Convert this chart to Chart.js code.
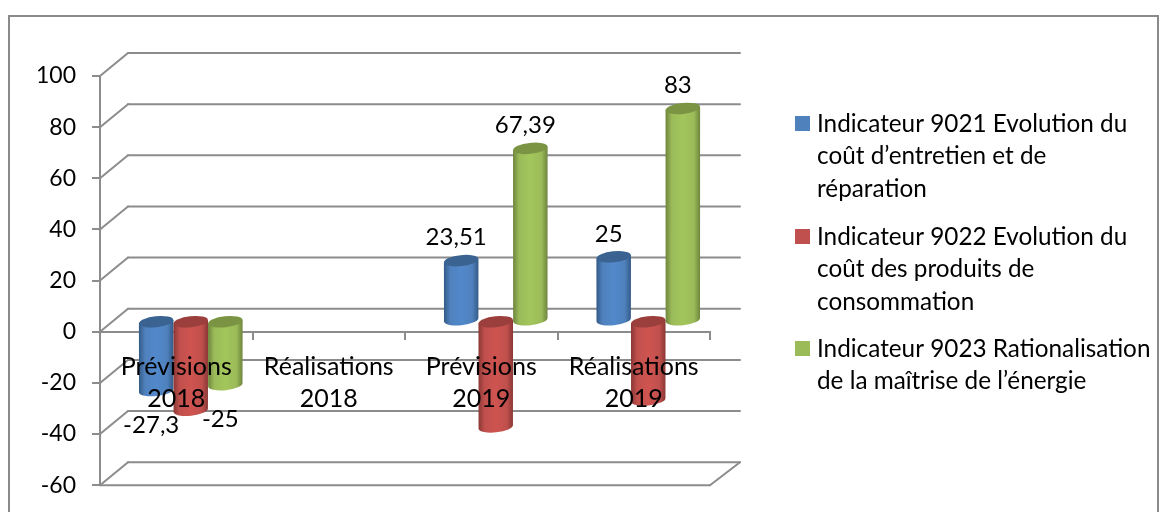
<!DOCTYPE html>
<html><head><meta charset="utf-8">
<style>html,body{margin:0;padding:0;background:#fff;overflow:hidden}#w{position:relative;width:1167px;height:512px;overflow:hidden}canvas{display:block}</style>
<script src="https://cdn.jsdelivr.net/npm/chart.js@4/dist/chart.umd.min.js"></script>
</head><body><div id="w"><canvas id="c" width="1167" height="515"></canvas></div>
<script>
const categories = [['Prévisions','2018'],['Réalisations','2018'],['Prévisions','2019'],['Réalisations','2019']];
const seriesNames = ['Indicateur 9021 Evolution du coût d’entretien et de réparation','Indicateur 9022 Evolution du coût des produits de consommation','Indicateur 9023 Rationalisation de la maîtrise de l’énergie'];
const values9021 = [-27.3, null, 23.51, 25];
const values9022 = [-35, null, -41.5, -31];
const values9023 = [-25, null, 67.39, 83];
const legendLines = [['Indicateur 9021 Evolution du','coût d’entretien et de','réparation'],['Indicateur 9022 Evolution du','coût des produits de','consommation'],['Indicateur 9023 Rationalisation','de la maîtrise de l’énergie']];
const legendY = [124,237,349];
const FONT = 'Lato, sans-serif';
const GRID = '#8c8c8c';
const palette = [
 {main:'#4F81BD',light:'#5289CB',dark:'#335A86',top:'#3A6391'},
 {main:'#C0504D',light:'#CF5450',dark:'#8A3735',top:'#9A3F3C'},
 {main:'#9BBB59',light:'#A3C65C',dark:'#6E853D',top:'#7A9444'}];
const DX=14.5, DY=-11, WX=28, WY=-23, RY=5.5, TILT=-6*Math.PI/180;

function line(ctx,a,b,c,d){ctx.beginPath();ctx.moveTo(a,b);ctx.lineTo(c,d);ctx.stroke();}

const scene = {
 id:'scene',
 beforeDraw(chart){
  const ctx=chart.ctx;ctx.save();ctx.fillStyle='#fff';ctx.fillRect(0,0,1167,515);
  ctx.strokeStyle='#8a8a8a';ctx.lineWidth=2;ctx.strokeRect(9,16,1149,520);ctx.restore();
 },
 beforeDatasetsDraw(chart){
  const ctx=chart.ctx,{x,y}=chart.scales,L=x.left,R=x.right;
  ctx.save();ctx.strokeStyle=GRID;ctx.lineWidth=2;ctx.lineCap='round';
  y.ticks.forEach(t=>{const p=y.getPixelForValue(t.value);
   line(ctx,L+WX,p+WY,R+WX+2,p+WY);
   line(ctx,L,p,L+WX,p+WY);});
  const b=y.getPixelForValue(y.min);
  line(ctx,L,b,R,b);line(ctx,R,b,R+WX+2,b+WY);
  ctx.restore();
  [0,1,2].forEach(ds=>{
   const c=palette[ds],meta=chart.getDatasetMeta(ds);
   ctx.save();
   meta.data.forEach((el,i)=>{
    const v=chart.data.datasets[ds].data[i]; if(v==null)return;
    const cx=el.x+DX,rx=el.width/2,top=Math.min(el.y,el.base)+DY,bot=Math.max(el.y,el.base)+DY;
    const off=rx*Math.sin(TILT);
    const g=ctx.createLinearGradient(cx-rx,0,cx+rx,0);
    g.addColorStop(0,c.dark);g.addColorStop(.18,c.main);g.addColorStop(.5,c.light);g.addColorStop(.82,c.main);g.addColorStop(1,c.dark);
    ctx.fillStyle=g;ctx.beginPath();
    ctx.ellipse(cx,bot,rx,RY,TILT,0,Math.PI,false);
    ctx.lineTo(cx-rx,top-off);
    ctx.lineTo(cx+rx,top+off);
    ctx.closePath();ctx.fill();
    ctx.fillStyle=c.top;ctx.beginPath();ctx.ellipse(cx,top,rx,RY,TILT,0,Math.PI*2);ctx.fill();
   });
   ctx.restore();
  });
 },
 beforeDatasetDraw(){return false;},
 afterDraw(chart){
  const ctx=chart.ctx;ctx.save();
  ctx.font='24px '+FONT;ctx.fillStyle='#000';ctx.textAlign='center';ctx.textBaseline='middle';
  [0,2].forEach(ds=>{
   chart.getDatasetMeta(ds).data.forEach((el,i)=>{
    const v=chart.data.datasets[ds].data[i];if(v==null)return;
    const s=String(v).replace('.',','),cx=el.x+DX-5;
    const ly=v>=0?el.y+DY-23:el.y+DY+35;
    ctx.fillText(s,cx,ly);
   });
  });
  ctx.textAlign='left';
  ctx.font='24.3px '+FONT;
  legendLines.forEach((ls,k)=>{
   ctx.fillStyle=palette[k].main;ctx.fillRect(795,legendY[k]-8,15,15);
   ctx.fillStyle='#000';
   ls.forEach((t,j)=>ctx.fillText(t,817,legendY[k]+j*32.5));
  });
  ctx.restore();
 }
};

new Chart(document.getElementById('c'),{
 type:'bar',
 data:{labels:categories,datasets:[
  {label:seriesNames[0],data:values9021,backgroundColor:palette[0].main},
  {label:seriesNames[1],data:values9022,backgroundColor:palette[1].main},
  {label:seriesNames[2],data:values9023,backgroundColor:palette[2].main}]},
 options:{
  responsive:false,animation:false,
  layout:{autoPadding:false,padding:{left:0,top:76,right:457,bottom:27}},
  datasets:{bar:{categoryPercentage:.68,barPercentage:1}},
  plugins:{legend:{display:false},title:{display:false},tooltip:{enabled:false}},
  scales:{
   x:{position:{y:0},
    afterFit(s){s.height=0;},
    border:{display:true,color:GRID,width:2,z:0},
    grid:{display:true,drawOnChartArea:false,drawTicks:true,tickLength:7,color:GRID,lineWidth:2},
    ticks:{z:1,color:'#000',font:{family:FONT,size:25,lineHeight:1.28},padding:12,maxRotation:0,autoSkip:false}},
   y:{min:-60,max:100,
    afterFit(s){s.width=100;},
    border:{display:true,color:GRID,width:2},
    grid:{drawOnChartArea:false,drawTicks:true,tickLength:8,color:GRID,lineWidth:2},
    ticks:{stepSize:20,padding:16,color:'#000',font:{family:FONT,size:23}}}
  }
 },
 plugins:[scene]
});
</script></body></html>
